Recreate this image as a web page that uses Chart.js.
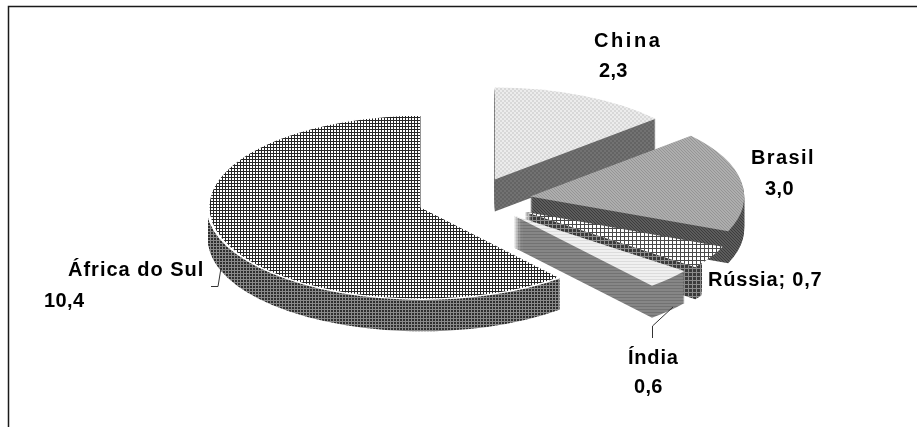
<!DOCTYPE html>
<html>
<head>
    <meta charset="UTF-8">
    <title>Gráfico de pizza</title>
    <style>
        body { margin: 0; padding: 0; background-color: #fff; }
        canvas { display: block; }
    </style>
</head>
<body>
    <canvas id="grafico" width="917" height="427"></canvas>

    <script src="https://cdn.jsdelivr.net/npm/chart.js"></script>
    <script>
        var categorias = ['China', 'Brasil', 'Rússia', 'Índia', 'África do Sul'];
        var valores = [2.3, 3.0, 0.7, 0.6, 10.4];

        // Fatias separadas do centro, em px no plano da pizza
        var afastamento = [65, 63, 65, 63, 49];
        var ajusteVertical = [5, 1, -2, -3, 0];
        var achatamento = 0.43;
        var espessura = 32;
        var centroY = 200;

        function tile(size, pinta) {
            var c = document.createElement('canvas');
            c.width = c.height = size;
            var g = c.getContext('2d');
            pinta(g, size);
            return g.createPattern(c, 'repeat');
        }

        function grade(size, fundo, linha) {
            return tile(size, function(g, s) {
                g.fillStyle = fundo;
                g.fillRect(0, 0, s, s);
                g.fillStyle = linha;
                g.fillRect(0, 0, s, 1);
                g.fillRect(0, 0, 1, s);
            });
        }

        function xadrez(a, b) {
            return tile(4, function(g, s) {
                g.fillStyle = a;
                g.fillRect(0, 0, s, s);
                g.fillStyle = b;
                g.fillRect(0, 0, 2, 2);
                g.fillRect(2, 2, 2, 2);
            });
        }

        function diagonal(a, b) {
            return tile(3, function(g, s) {
                g.fillStyle = a;
                g.fillRect(0, 0, s, s);
                g.fillStyle = b;
                g.fillRect(0, 0, 1, 1);
                g.fillRect(1, 1, 1, 1);
                g.fillRect(2, 2, 1, 1);
            });
        }

        function listras(a, b) {
            return tile(3, function(g, s) {
                g.fillStyle = a;
                g.fillRect(0, 0, s, s);
                g.fillStyle = b;
                g.fillRect(0, 0, s, 1);
            });
        }

        var topos = [
            xadrez('#ececec', '#d8d8d8'),
            diagonal('#aeaeae', '#959595'),
            grade(4, '#ffffff', '#4a4a4a'),
            listras('#f0f0f0', '#dcdcdc'),
            grade(3, '#ffffff', '#262626')
        ];
        var lados = [
            xadrez('#727272', '#646464'),
            diagonal('#5c5c5c', '#3c3c3c'),
            grade(4, '#3a3a3a', '#8c8c8c'),
            listras('#868686', '#727272'),
            grade(3, '#2e2e2e', '#8a8a8a')
        ];

        // Fatias em perspectiva: empilha a lateral e depois a face de cima
        var pizza3d = {
            id: 'pizza3d',
            beforeDatasetDraw: function(chart, args) {
                var ctx = chart.ctx;
                var arcos = args.meta.data;

                function posiciona(i, desce) {
                    var arco = arcos[i];
                    var meio = (arco.startAngle + arco.endAngle) / 2;
                    var dx = Math.cos(meio) * afastamento[i];
                    var dy = Math.sin(meio) * afastamento[i];
                    ctx.setTransform(1, 0, 0, achatamento, dx,
                        centroY + ajusteVertical[i] + desce + (dy - arco.y) * achatamento);
                }

                function desenha(arco, padrao, proprias) {
                    // padrão preso à tela, senão achata junto com a pizza
                    padrao.setTransform(ctx.getTransform().inverse());
                    arco.options = proprias;
                    arco.draw(ctx);
                }

                ctx.save();
                [4, 0, 1, 2, 3].forEach(function(i) {
                    var arco = arcos[i];
                    var opcoes = arco.options;
                    var lado = Object.assign({}, opcoes, { backgroundColor: lados[i], borderWidth: 0 });

                    // a lateral da Rússia só aparece até logo depois do canto da fatia
                    ctx.save();
                    if (i === 2) {
                        var meio = (arco.startAngle + arco.endAngle) / 2;
                        var limite = arco.x + Math.cos(meio) * afastamento[i] +
                            Math.cos(arco.endAngle) * arco.outerRadius + 6;
                        ctx.setTransform(1, 0, 0, 1, 0, 0);
                        ctx.beginPath();
                        ctx.rect(0, 0, limite, chart.height);
                        ctx.clip();
                    }
                    for (var d = espessura; d > 0; d--) {
                        posiciona(i, d);
                        desenha(arco, lados[i], lado);
                    }
                    ctx.restore();

                    posiciona(i, 0);
                    desenha(arco, topos[i], opcoes);
                });
                ctx.restore();
                return false;
            },
            afterDraw: function(chart) {
                var ctx = chart.ctx;
                ctx.save();

                // moldura, só em cima e à esquerda
                ctx.strokeStyle = '#1a1a1a';
                ctx.lineWidth = 1.5;
                ctx.beginPath();
                ctx.moveTo(8.5, 427);
                ctx.lineTo(8.5, 6.5);
                ctx.lineTo(917, 6.5);
                ctx.stroke();

                // linhas de chamada
                ctx.strokeStyle = '#333';
                ctx.lineWidth = 1;
                ctx.beginPath();
                ctx.moveTo(211, 286.5);
                ctx.lineTo(218, 286.5);
                ctx.lineTo(221, 268);
                ctx.moveTo(652.5, 338);
                ctx.lineTo(652.5, 326);
                ctx.lineTo(673, 307);
                ctx.stroke();

                function valor(i) {
                    return valores[i].toFixed(1).replace('.', ',');
                }

                function rotulo(texto, x, y, espaco) {
                    ctx.letterSpacing = espaco + 'px';
                    ctx.fillText(texto, x, y);
                }

                ctx.fillStyle = '#000';
                ctx.font = 'bold 20px "Liberation Sans", Arial, sans-serif';
                ctx.textAlign = 'left';
                rotulo(categorias[0], 594, 47, 2.6);
                rotulo(valor(0), 599, 77, 0.3);
                rotulo(categorias[1], 751, 164, 1.4);
                rotulo(valor(1), 765, 195, 0.4);
                rotulo(categorias[2] + '; ' + valor(2), 708, 286, 0.8);
                rotulo(categorias[3], 628, 364, 0.8);
                rotulo(valor(3), 634, 393, 0.3);
                rotulo(categorias[4], 68, 276, 1);
                rotulo(valor(4), 44, 307, 0.4);
                ctx.restore();
            }
        };

        new Chart(document.getElementById('grafico').getContext('2d'), {
            type: 'pie',
            data: {
                labels: categorias,
                datasets: [{
                    data: valores,
                    backgroundColor: topos,
                    borderColor: '#ffffff',
                    borderWidth: [0, 0, 0, 0, 3]
                }]
            },
            options: {
                responsive: false,
                animation: false,
                radius: 214,
                layout: { padding: { left: 19, bottom: 27 } },
                plugins: {
                    legend: { display: false },
                    tooltip: { enabled: false }
                }
            },
            plugins: [pizza3d]
        });
    </script>
</body>
</html>
